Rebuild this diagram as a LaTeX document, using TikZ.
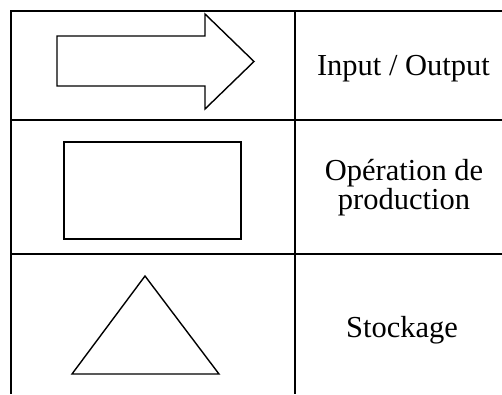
\documentclass[tikz,border=0pt]{standalone}
\usepackage{fontspec}
\setmainfont{Liberation Serif}
\begin{document}
\begin{tikzpicture}[x=1pt,y=-1pt,
  grid/.style={line width=1.3pt,black},
  symbol/.style={line width=1.4pt,black,line join=miter},
  label/.style={font=\fontsize{30.5}{29}\selectfont,align=center,inner sep=0pt}]
  \useasboundingbox (0,0) rectangle (502,394);
  % table frame
  \draw[grid] (502,11) -- (11,11) -- (11,394);
  \draw[grid] (295,11) -- (295,394);
  \draw[grid] (11,120) -- (502,120);
  \draw[grid] (11,254) -- (502,254);
  % input / output arrow
  \draw[symbol] (57,36) -- (205,36) -- (205,14) -- (254,61.5) -- (205,109)
    -- (205,86) -- (57,86) -- cycle;
  % production operation
  \node[symbol,draw,minimum width=177pt,minimum height=97pt,inner sep=0pt]
    (op) at (152.5,190.5) {};
  % storage triangle
  \draw[symbol] (145,276) -- (219,374) -- (72,374) -- cycle;
  % labels
  \node[label,anchor=base] (io) at (403.5,75) {Input / Output};
  \node[label] (prod) at (404,188) {Opération de\\production};
  \node[label,anchor=base] (st) at (402,337) {Stockage};
\end{tikzpicture}
\end{document}
